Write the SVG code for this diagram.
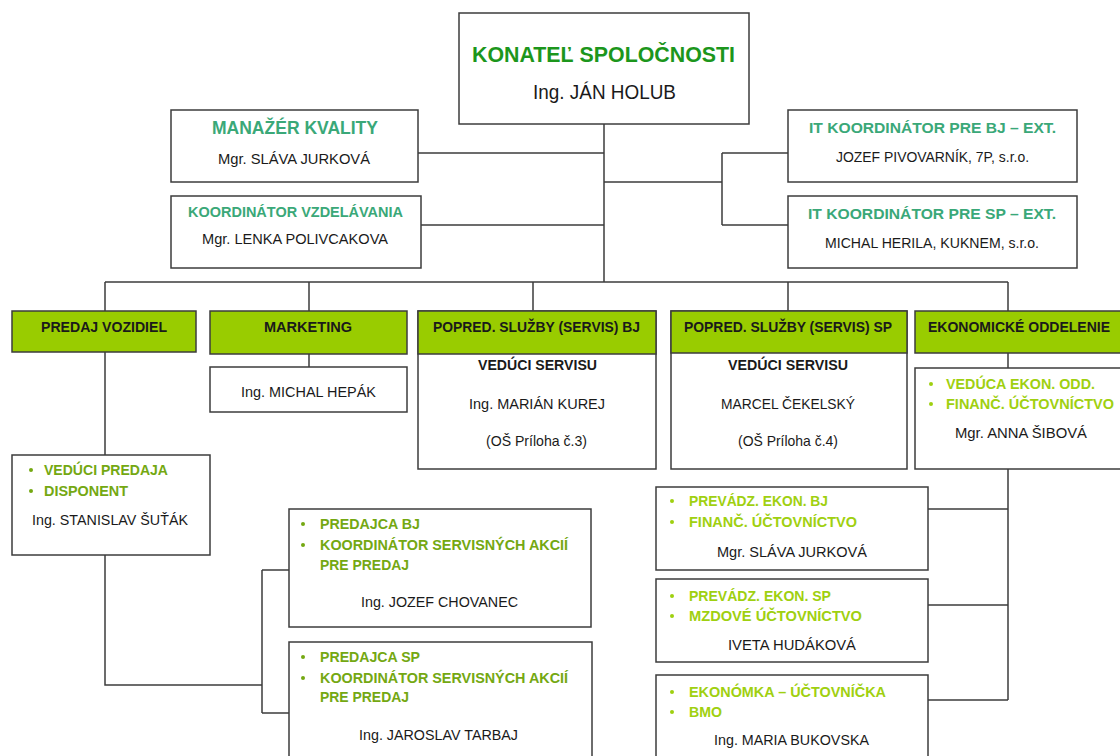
<svg xmlns="http://www.w3.org/2000/svg" width="1120" height="756" viewBox="0 0 1120 756">
<style>
.box{fill:#fff;stroke:#3c3c3c;stroke-width:1.5}
.hdr{fill:#99cc00;stroke:#3c3c3c;stroke-width:1.5}
.ln{fill:none;stroke:#3c3c3c;stroke-width:1.5}
text{font-family:"Liberation Sans",Arial,sans-serif;font-size:15px;fill:#1a1a1a}
.b{font-weight:bold}
.top{fill:#1c961c;font-weight:bold;font-size:22px}
.teal{fill:#3aa878;font-weight:bold}
.olive{fill:#74a812;font-weight:bold}
.lime{fill:#9fd010;font-weight:bold}
.dol{fill:#74a812}
.dli{fill:#9fd010}
</style>
<g id="connectors">
<path class="ln" d="M604 124V282M418 153H604M420 225H604M604 182H722M722 153V225M722 153H788M722 225H788"/>
<path class="ln" d="M105 282H1008M105 282V311M309 282V311M533 282V311M788 282V311M1008 282V311"/>
<path class="ln" d="M105 352V455M309 354V367M1008 353V368"/>
<path class="ln" d="M105 555V685H262M262 570V713M262 570H289M262 713H289"/>
<path class="ln" d="M1008 469V700M928 509H1008M928 605H1008M928 700H1008"/>
</g>
<g id="konatel">
<rect class="box" x="459" y="13" width="290" height="111"/>
<text class="top" x="472" y="62" textLength="263" lengthAdjust="spacingAndGlyphs">KONATEĽ SPOLOČNOSTI</text>
<text x="533" y="99" style="font-size:20px" textLength="143" lengthAdjust="spacingAndGlyphs">Ing. JÁN HOLUB</text>
</g>
<g id="manazer">
<rect class="box" x="171" y="110" width="247" height="72"/>
<text class="teal" x="212" y="134" style="font-size:18px" textLength="166" lengthAdjust="spacingAndGlyphs">MANAŽÉR KVALITY</text>
<text x="218" y="164" textLength="152" lengthAdjust="spacingAndGlyphs">Mgr. SLÁVA JURKOVÁ</text>
</g>
<g id="koordinator">
<rect class="box" x="171" y="196" width="250" height="72"/>
<text class="teal" x="188" y="217" textLength="215" lengthAdjust="spacingAndGlyphs">KOORDINÁTOR VZDELÁVANIA</text>
<text x="202" y="244" textLength="186" lengthAdjust="spacingAndGlyphs">Mgr. LENKA POLIVCAKOVA</text>
</g>
<g id="it-bj">
<rect class="box" x="788" y="110" width="289" height="72"/>
<text class="teal" x="809" y="133" textLength="247" lengthAdjust="spacingAndGlyphs">IT KOORDINÁTOR PRE BJ – EXT.</text>
<text x="836" y="162" textLength="193" lengthAdjust="spacingAndGlyphs">JOZEF PIVOVARNÍK, 7P, s.r.o.</text>
</g>
<g id="it-sp">
<rect class="box" x="788" y="196" width="289" height="72"/>
<text class="teal" x="808" y="219" textLength="248" lengthAdjust="spacingAndGlyphs">IT KOORDINÁTOR PRE SP – EXT.</text>
<text x="825" y="248" textLength="214" lengthAdjust="spacingAndGlyphs">MICHAL HERILA, KUKNEM, s.r.o.</text>
</g>
<g id="predaj">
<rect class="hdr" x="12" y="311" width="184" height="41"/>
<text class="b" x="41" y="332" textLength="126" lengthAdjust="spacingAndGlyphs">PREDAJ VOZIDIEL</text>
</g>
<g id="marketing">
<rect class="hdr" x="210" y="311" width="197" height="43"/>
<text class="b" x="264" y="332" textLength="88" lengthAdjust="spacingAndGlyphs">MARKETING</text>
</g>
<g id="hepak">
<rect class="box" x="210" y="367" width="197" height="45"/>
<text x="241" y="397" textLength="135" lengthAdjust="spacingAndGlyphs">Ing. MICHAL HEPÁK</text>
</g>
<g id="servis-bj">
<rect class="box" x="418" y="311" width="238" height="158"/>
<rect class="hdr" x="418" y="311" width="238" height="43"/>
<text class="b" x="433" y="332" textLength="207" lengthAdjust="spacingAndGlyphs">POPRED. SLUŽBY (SERVIS) BJ</text>
<text class="b" x="478" y="370" textLength="119" lengthAdjust="spacingAndGlyphs">VEDÚCI SERVISU</text>
<text x="469" y="409" textLength="136" lengthAdjust="spacingAndGlyphs">Ing. MARIÁN KUREJ</text>
<text x="486" y="446" textLength="101" lengthAdjust="spacingAndGlyphs">(OŠ Príloha č.3)</text>
</g>
<g id="servis-sp">
<rect class="box" x="671" y="311" width="236" height="158"/>
<rect class="hdr" x="671" y="311" width="236" height="42"/>
<text class="b" x="684" y="332" textLength="208" lengthAdjust="spacingAndGlyphs">POPRED. SLUŽBY (SERVIS) SP</text>
<text class="b" x="728" y="370" textLength="120" lengthAdjust="spacingAndGlyphs">VEDÚCI SERVISU</text>
<text x="721" y="409" textLength="134" lengthAdjust="spacingAndGlyphs">MARCEL ČEKELSKÝ</text>
<text x="738" y="446" textLength="100" lengthAdjust="spacingAndGlyphs">(OŠ Príloha č.4)</text>
</g>
<g id="ekonomicke">
<rect class="hdr" x="915" y="311" width="212" height="42"/>
<text class="b" x="928" y="332" textLength="182" lengthAdjust="spacingAndGlyphs">EKONOMICKÉ ODDELENIE</text>
</g>
<g id="sibova">
<rect class="box" x="915" y="368" width="212" height="101"/>
<circle class="dli" cx="931" cy="384" r="2"/>
<circle class="dli" cx="931" cy="404" r="2"/>
<text class="lime" x="946" y="389" textLength="149" lengthAdjust="spacingAndGlyphs">VEDÚCA EKON. ODD.</text>
<text class="lime" x="946" y="409" textLength="168" lengthAdjust="spacingAndGlyphs">FINANČ. ÚČTOVNÍCTVO</text>
<text x="955" y="438" textLength="132" lengthAdjust="spacingAndGlyphs">Mgr. ANNA ŠIBOVÁ</text>
</g>
<g id="sutak">
<rect class="box" x="12" y="455" width="198" height="100"/>
<circle class="dol" cx="31" cy="470" r="2"/>
<circle class="dol" cx="31" cy="491" r="2"/>
<text class="olive" x="44" y="475" textLength="124" lengthAdjust="spacingAndGlyphs">VEDÚCI PREDAJA</text>
<text class="olive" x="44" y="496" textLength="84" lengthAdjust="spacingAndGlyphs">DISPONENT</text>
<text x="32" y="525" textLength="156" lengthAdjust="spacingAndGlyphs">Ing. STANISLAV ŠUŤÁK</text>
</g>
<g id="chovanec">
<rect class="box" x="289" y="509" width="302" height="118"/>
<circle class="dol" cx="303" cy="524" r="2"/>
<circle class="dol" cx="303" cy="545" r="2"/>
<text class="olive" x="320" y="529" textLength="100" lengthAdjust="spacingAndGlyphs">PREDAJCA BJ</text>
<text class="olive" x="320" y="550" textLength="248" lengthAdjust="spacingAndGlyphs">KOORDINÁTOR SERVISNÝCH AKCIÍ</text>
<text class="olive" x="320" y="570" textLength="89" lengthAdjust="spacingAndGlyphs">PRE PREDAJ</text>
<text x="361" y="607" textLength="157" lengthAdjust="spacingAndGlyphs">Ing. JOZEF CHOVANEC</text>
</g>
<g id="tarbaj">
<rect class="box" x="289" y="642" width="303" height="130"/>
<circle class="dol" cx="303" cy="657" r="2"/>
<circle class="dol" cx="303" cy="678" r="2"/>
<text class="olive" x="320" y="662" textLength="100" lengthAdjust="spacingAndGlyphs">PREDAJCA SP</text>
<text class="olive" x="320" y="683" textLength="248" lengthAdjust="spacingAndGlyphs">KOORDINÁTOR SERVISNÝCH AKCIÍ</text>
<text class="olive" x="320" y="702" textLength="89" lengthAdjust="spacingAndGlyphs">PRE PREDAJ</text>
<text x="359" y="740" textLength="159" lengthAdjust="spacingAndGlyphs">Ing. JAROSLAV TARBAJ</text>
</g>
<g id="jurkova">
<rect class="box" x="656" y="487" width="272" height="83"/>
<circle class="dli" cx="672" cy="501" r="2"/>
<circle class="dli" cx="672" cy="522" r="2"/>
<text class="lime" x="689" y="506" textLength="139" lengthAdjust="spacingAndGlyphs">PREVÁDZ. EKON. BJ</text>
<text class="lime" x="689" y="527" textLength="168" lengthAdjust="spacingAndGlyphs">FINANČ. ÚČTOVNÍCTVO</text>
<text x="717" y="557" textLength="150" lengthAdjust="spacingAndGlyphs">Mgr. SLÁVA JURKOVÁ</text>
</g>
<g id="hudakova">
<rect class="box" x="656" y="579" width="272" height="83"/>
<circle class="dli" cx="672" cy="596" r="2"/>
<circle class="dli" cx="672" cy="616" r="2"/>
<text class="lime" x="689" y="601" textLength="142" lengthAdjust="spacingAndGlyphs">PREVÁDZ. EKON. SP</text>
<text class="lime" x="689" y="621" textLength="173" lengthAdjust="spacingAndGlyphs">MZDOVÉ ÚČTOVNÍCTVO</text>
<text x="728" y="650" textLength="128" lengthAdjust="spacingAndGlyphs">IVETA HUDÁKOVÁ</text>
</g>
<g id="bukovska">
<rect class="box" x="656" y="675" width="272" height="97"/>
<circle class="dli" cx="672" cy="692" r="2"/>
<circle class="dli" cx="672" cy="712" r="2"/>
<text class="lime" x="689" y="697" textLength="197" lengthAdjust="spacingAndGlyphs">EKONÓMKA – ÚČTOVNÍČKA</text>
<text class="lime" x="689" y="717" textLength="33" lengthAdjust="spacingAndGlyphs">BMO</text>
<text x="714" y="745" textLength="155" lengthAdjust="spacingAndGlyphs">Ing. MARIA BUKOVSKA</text>
</g>
</svg>
